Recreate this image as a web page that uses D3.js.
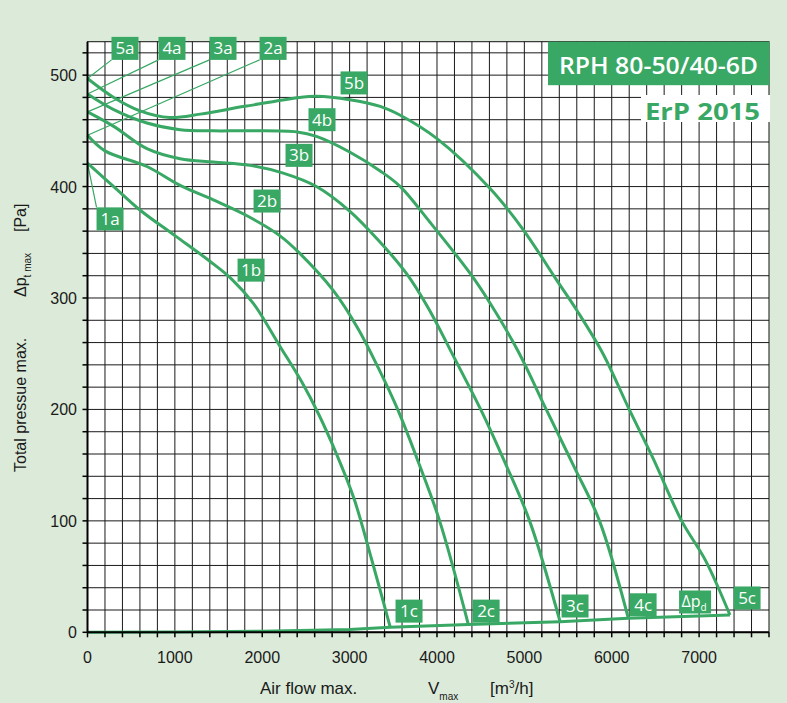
<!DOCTYPE html>
<html><head><meta charset="utf-8">
<script src="https://cdn.jsdelivr.net/npm/d3@7"></script>
<style>html,body{margin:0;padding:0;background:#dcebd9;} svg{display:block;}</style>
</head><body><svg id="c" width="787" height="703"></svg>
<script>
// ---- data (V [m3/h], p [Pa]) ----
const curve1 = [[0,421],[300,400],[600,379],[1000,356],[1400,333],[1650,317],[1900,295],[2200,257],[2450,225],[2650,195],[2850,160],[3050,120],[3250,66],[3463,5]];
const curve2 = [[0,446],[200,432],[680,418],[1060,401],[1440,388],[1820,374],[2200,356],[2430,340],[2810,307],[3100,272],[3330,237],[3550,200],[3800,150],[4030,100],[4359,7]];
const curve3 = [[0,467],[300,454],[680,434],[1060,425],[1440,422],[1860,419],[2240,412],[2620,400],[3000,378],[3350,350],[3650,322],[3900,291],[4200,246],[4500,200],[4780,152],[5060,100],[5409,9.5]];
const curve4 = [[0,483],[300,469],[680,457],[1060,451],[1440,450],[1820,450],[2400,449],[2620,445],[3000,431],[3350,414],[3580,400],[3920,368],[4380,322],[4610,295],[4930,252],[5250,200],[5560,150],[5860,100],[6190,12.5]];
const curve5 = [[0,497],[300,480],[600,468],[940,462],[1290,465],[1800,472],[2430,480],[2620,481],[3000,478],[3350,472],[3580,464],[4000,443],[4610,398],[4990,361],[5370,316],[5600,289],[5900,250],[6200,200],[6480,155],[6800,100],[7070,65],[7353,15.5]];
const dynPressure = [[0,0],[1000,0.3],[2000,1],[3000,2.5],[3463,4.5],[4359,7],[5409,9.5],[6190,12.5],[7353,15.5]];
const xTicks = [0,1000,2000,3000,4000,5000,6000,7000];
const yTicks = [0,100,200,300,400,500];
// label annotations: text, anchor in data units
const labelText = ["5a","4a","3a","2a","1a","1b","2b","3b","4b","5b","1c","2c","3c","4c","5c"];
const labelV    = [429,967,1551,2124,258,1872,2055,2421,2684,3051,3680,4562,5580,6359,7549];
const labelP    = [524,524,524,524,371,325,387,428,460,493,19,19,23.6,24.7,30.8];
const leaderStartP = [497,483,467,446,421];

const GREEN = "#38a864";
const svg = d3.select("#c");
const x = d3.scaleLinear().domain([0,7800]).range([87.5,769]);
const y = d3.scaleLinear().domain([0,530]).range([632.3,41.7]);

// plot background
svg.append("rect").attr("x",x(0)).attr("y",y(530)).attr("width",x(7800)-x(0)).attr("height",y(0)-y(530)).attr("fill","#fff");

// grid
const g = svg.append("g");
g.selectAll("line.v").data(d3.range(200,7800,200)).join("line")
  .attr("x1",d=>x(d)).attr("x2",d=>x(d)).attr("y1",y(0)).attr("y2",y(530))
  .attr("stroke","#1a1a1a").attr("stroke-width",1);
g.selectAll("line.h").data(d3.range(20,530,20)).join("line")
  .attr("y1",d=>y(d)).attr("y2",d=>y(d)).attr("x1",x(0)).attr("x2",x(7800))
  .attr("stroke","#1a1a1a").attr("stroke-width",1);

// frame
svg.append("rect").attr("x",x(0)).attr("y",y(530)).attr("width",x(7800)-x(0)).attr("height",y(0)-y(530))
  .attr("fill","none").attr("stroke","#111").attr("stroke-width",1);

// ErP white box (covers grid)
svg.append("rect").attr("x",641).attr("y",95).attr("width",129).attr("height",27).attr("fill","#fff");

// curves
const line = d3.line().x(d=>x(d[0])).y(d=>y(d[1])).curve(d3.curveCatmullRom.alpha(0.5));
[curve1,curve2,curve3,curve4,curve5].forEach(c=>{
  svg.append("path").attr("d",line(c)).attr("fill","none").attr("stroke",GREEN).attr("stroke-width",3);
});
svg.append("path").attr("d",d3.line().x(d=>x(d[0])).y(d=>y(d[1]))(dynPressure))
  .attr("fill","none").attr("stroke",GREEN).attr("stroke-width",3);

// leader lines from a-labels
const bw=27, bh=23;
leaderStartP.forEach((p,i)=>{
  const cx=x(labelV[i]), cy=y(labelP[i]);
  let tx, ty;
  if(i<4){ tx=cx-bw/2; ty=cy+bh/2; } else { tx=cx-bw/2; ty=cy-bh/2; }
  svg.append("line").attr("x1",x(0)).attr("y1",y(p)).attr("x2",tx).attr("y2",ty)
    .attr("stroke",GREEN).attr("stroke-width",1.2);
});

// label boxes
labelText.forEach((t,i)=>{
  const cx=x(labelV[i]), cy=y(labelP[i]);
  svg.append("rect").attr("x",cx-bw/2).attr("y",cy-bh/2).attr("width",bw).attr("height",bh).attr("fill",GREEN);
  svg.append("text").attr("x",cx).attr("y",cy+6).attr("text-anchor","middle")
    .attr("font-family","'Open Sans', sans-serif").attr("font-size",17).attr("fill","#fff").text(t);
});
// Δp_d label
{
  const cx=x(6954), cy=y(27.2), w=32;
  svg.append("rect").attr("x",cx-w/2).attr("y",cy-bh/2).attr("width",w).attr("height",bh).attr("fill",GREEN);
  const t=svg.append("text").attr("x",cx-1).attr("y",cy+5).attr("text-anchor","middle")
    .attr("font-family","'Open Sans', sans-serif").attr("font-size",16).attr("fill","#fff");
  t.append("tspan").text("Δp");
  t.append("tspan").attr("font-size",10).attr("dy",4).text("d");
}

// title boxes
svg.append("rect").attr("x",548).attr("y",41.7).attr("width",221.5).attr("height",43.5).attr("fill",GREEN);
svg.append("text").attr("x",559).attr("y",73.5)
  .attr("font-family","'Open Sans', sans-serif").attr("font-weight",600).attr("font-size",23)
  .attr("textLength",199).attr("lengthAdjust","spacingAndGlyphs")
  .attr("fill","#fff").text("RPH 80-50/40-6D");
svg.append("text").attr("x",645).attr("y",119.5)
  .attr("font-family","'Open Sans', sans-serif").attr("font-weight",700).attr("font-size",24)
  .attr("textLength",115).attr("lengthAdjust","spacingAndGlyphs")
  .attr("fill",GREEN).text("ErP 2015");

// axes lines
svg.append("line").attr("x1",x(0)).attr("x2",x(0)).attr("y1",y(0)).attr("y2",y(530)).attr("stroke","#000").attr("stroke-width",2);
svg.append("line").attr("x1",x(0)).attr("x2",x(7800)).attr("y1",y(0)).attr("y2",y(0)).attr("stroke","#000").attr("stroke-width",2);

// ticks
svg.selectAll("line.xt").data(d3.range(0,7801,200)).join("line")
  .attr("x1",d=>x(d)).attr("x2",d=>x(d)).attr("y1",y(0)).attr("y2",y(0)+5).attr("stroke","#000").attr("stroke-width",1.5);
svg.selectAll("line.yt").data(d3.range(0,521,20)).join("line")
  .attr("y1",d=>y(d)).attr("y2",d=>y(d)).attr("x1",x(0)-5).attr("x2",x(0)).attr("stroke","#000").attr("stroke-width",1.5);

const tf = "'Liberation Sans', Arial, sans-serif";
svg.selectAll("text.xl").data(xTicks).join("text")
  .attr("x",d=>x(d)).attr("y",663).attr("text-anchor","middle")
  .attr("font-family",tf).attr("font-size",16).attr("fill","#1a1a1a").text(d=>d);
svg.selectAll("text.yl").data(yTicks).join("text")
  .attr("x",77).attr("y",d=>y(d)+6).attr("text-anchor","end")
  .attr("font-family",tf).attr("font-size",16).attr("fill","#1a1a1a").text(d=>d);

// x title
svg.append("text").attr("x",260).attr("y",694).attr("font-family",tf).attr("font-size",17).attr("fill","#1a1a1a").text("Air flow max.");
{
  const t=svg.append("text").attr("x",428).attr("y",694).attr("font-family",tf).attr("font-size",17).attr("fill","#1a1a1a");
  t.append("tspan").text("V");
  t.append("tspan").attr("font-size",10).attr("dy",6).text("max");
}
{
  const t=svg.append("text").attr("x",490).attr("y",694).attr("font-family",tf).attr("font-size",17).attr("fill","#1a1a1a");
  t.append("tspan").text("[m");
  t.append("tspan").attr("font-size",10).attr("dy",-6).text("3");
  t.append("tspan").attr("dy",6).text("/h]");
}
// y title (rotated)
function ytext(yPos){ return svg.append("text").attr("transform",`translate(26,${yPos}) rotate(-90)`).attr("font-family",tf).attr("font-size",16).attr("fill","#1a1a1a"); }
ytext(472).text("Total pressue max.");
{
  const t=ytext(297);
  t.append("tspan").text("Δp");
  t.append("tspan").attr("font-size",10).attr("dy",5).text("t max");
}
ytext(232).text("[Pa]");
</script></body></html>
